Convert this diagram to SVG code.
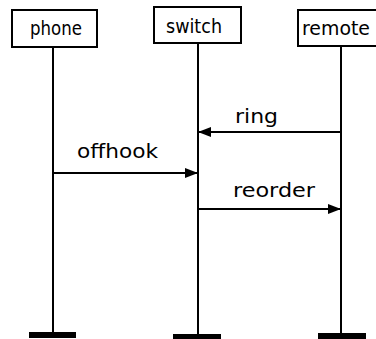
<svg xmlns="http://www.w3.org/2000/svg" width="376" height="339" viewBox="0 0 376 339">
<style>
.box{fill:#fff;stroke:#000;stroke-width:2}
.life{stroke:#000;stroke-width:2;fill:none}
.bar{fill:#000}
.msg{stroke:#000;stroke-width:2;fill:none;marker-end:url(#ah)}
text{font-family:"DejaVu Sans","Liberation Sans",sans-serif;font-size:19px;fill:#000}
</style>
<defs>
<marker id="ah" viewBox="0 0 13 10" refX="13" refY="5" markerWidth="13" markerHeight="10" markerUnits="userSpaceOnUse" orient="auto">
<path d="M0,0 L13,5 L0,10 Z" fill="#000"/>
</marker>
</defs>
<g id="phone">
<rect class="box" x="12" y="10" width="85" height="37"/>
<text x="30" y="35" textLength="52" lengthAdjust="spacingAndGlyphs">phone</text>
<line class="life" x1="53" y1="47" x2="53" y2="333"/>
<rect class="bar" x="29" y="332" width="47" height="6"/>
</g>
<g id="switch">
<rect class="box" x="154" y="7" width="87" height="36"/>
<text x="166" y="33" textLength="56" lengthAdjust="spacingAndGlyphs">switch</text>
<line class="life" x1="198" y1="43" x2="198" y2="335"/>
<rect class="bar" x="173" y="334" width="48" height="5"/>
</g>
<g id="remote">
<rect class="box" x="298" y="10" width="90" height="36"/>
<text x="302" y="35" textLength="68" lengthAdjust="spacingAndGlyphs">remote</text>
<line class="life" x1="341" y1="46" x2="341" y2="334"/>
<rect class="bar" x="318" y="333" width="48" height="6"/>
</g>
<g id="connectors">
<line class="msg" x1="341" y1="132" x2="198" y2="132"/>
<text x="235" y="123" textLength="43" lengthAdjust="spacingAndGlyphs">ring</text>
<line class="msg" x1="53" y1="173" x2="198" y2="173"/>
<text x="77" y="158" textLength="81" lengthAdjust="spacingAndGlyphs">offhook</text>
<line class="msg" x1="198" y1="209" x2="341" y2="209"/>
<text x="233" y="197" textLength="82" lengthAdjust="spacingAndGlyphs">reorder</text>
</g>
</svg>
